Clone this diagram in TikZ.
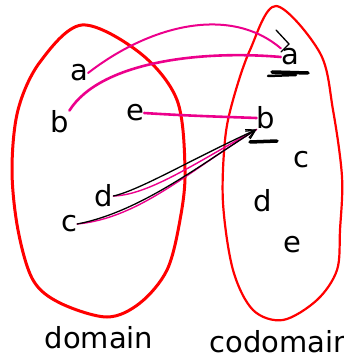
\documentclass[tikz,border=0pt]{standalone}
\usepackage{fontspec}
\setmainfont{DejaVu Sans}
\usetikzlibrary{arrows.meta}
\tikzset{
  elem/.style={font=\fontsize{29}{31}\selectfont, inner sep=0pt},
  blob/.style={draw=red, line width=3pt, line join=round},
  mapline/.style={draw=magenta, line width=2.6pt, line cap=round},
  ink/.style={draw=black, line width=1.3pt, line cap=round, -{Straight Barb[length=9pt,width=9pt]}},
  scrib/.style={draw=black, line width=3.5pt, line cap=round}
}
\begin{document}
\begin{tikzpicture}[x=1pt, y=-1pt]
  \useasboundingbox (0,0) rectangle (344,358);
  % the two sets
  \draw[blob] plot[smooth cycle, tension=0.55] coordinates {(82,25) (140,53) (177,100) (185,170) (180,220) (167,270) (140,303) (107,317) (60,303) (33,280) (18,230) (12,170) (18,110) (40,62)};
  \draw[blob, line width=2.2pt] plot[smooth cycle, tension=0.55] coordinates {(276,6) (320,53) (333,110) (342,177) (340,230) (337,270) (317,300) (283,320) (253,310) (233,270) (223,203) (225,140) (233,100) (250,50)};
  % domain elements
  \node[elem] (da) at (79,73) {a};
  \node[elem] (db) at (60,122) {b};
  \node[elem] (de) at (135,113) {e};
  \node[elem] (dd) at (104,196) {d};
  \node[elem] (dc) at (69,224) {c};
  % codomain elements
  \node[elem] (ca) at (290,57) {a};
  \node[elem] (cb) at (266,118) {b};
  \node[elem] (cc) at (301,160) {c};
  \node[elem] (cd) at (263,201) {d};
  \node[elem] (ce) at (292,245) {e};
  % set names
  \node[elem] (dom) at (99,338) {domain};
  \node[elem] (cod) at (281,342) {codomain};
  % the mapping
  \draw[mapline, line width=2pt] (da.east) .. controls (150,25) and (230,5) .. (ca.north west);
  \draw[mapline] (db.north east) .. controls (100,62) and (200,50) .. (ca.west);
  \draw[mapline] (de.east) .. controls (190,116) and (230,117) .. (cb.west);
  \draw[mapline, line width=1.4pt] (dd.east) .. controls (150,195) and (200,160) .. (cb.south west);
  \draw[mapline, line width=1.4pt] (dc.east) .. controls (140,218) and (190,170) .. (cb.south west);
  % black corrections
  \draw[ink] (dd.east) .. controls (140,190) and (190,160) .. (cb.south west);
  \draw[ink] (dc.east) .. controls (140,212) and (200,165) .. (cb.south west);
  \draw[draw=black, line width=1.3pt, line cap=round] (276,30) -- (289,44) -- (281,52);
  \draw[scrib] (272,72) -- (308,73);
  \draw[scrib, line width=2.5pt] (268,76) -- (296,75);
  \draw[scrib] (250,142) -- (277,141);
\end{tikzpicture}
\end{document}
